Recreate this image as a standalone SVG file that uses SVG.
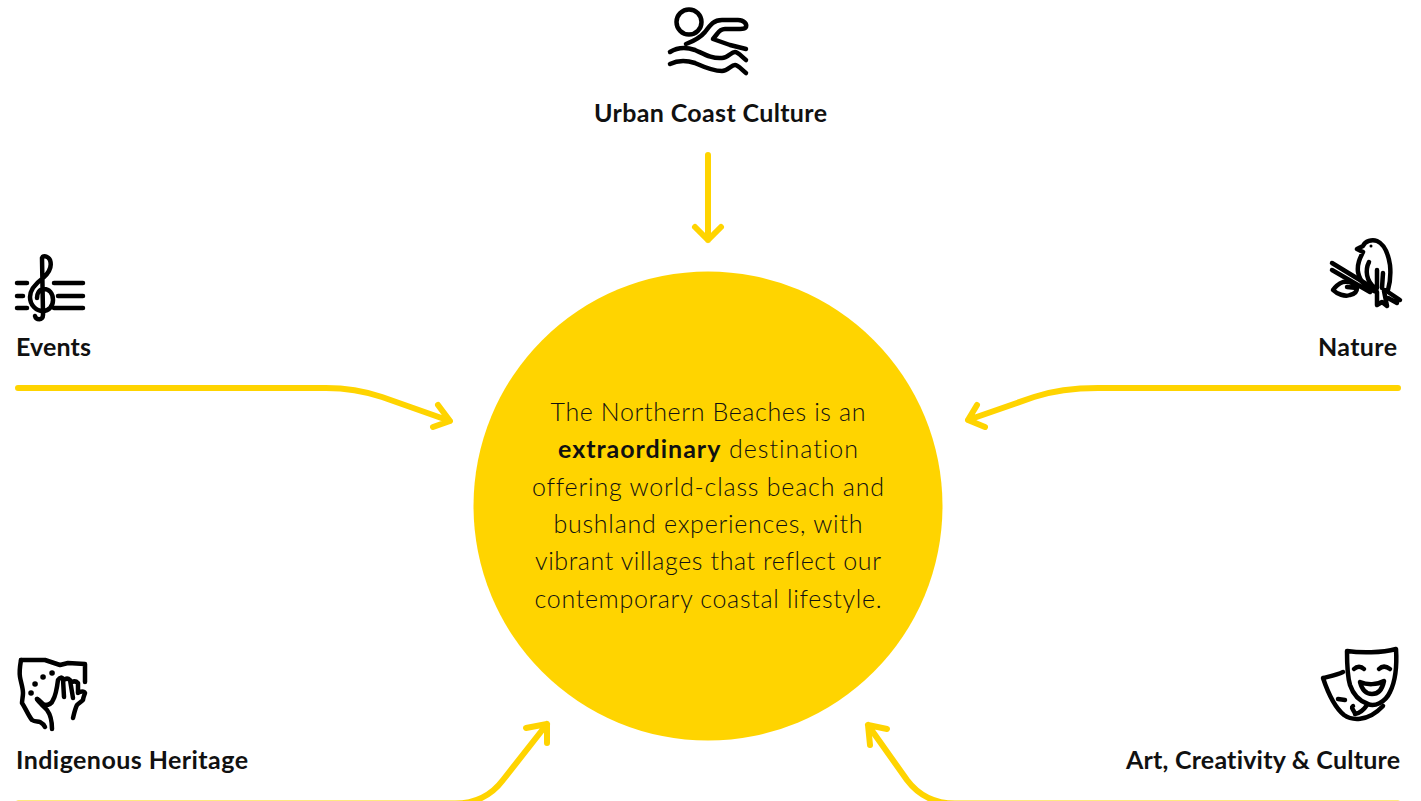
<svg xmlns="http://www.w3.org/2000/svg" width="1421" height="801" viewBox="0 0 1421 801">
<style>
.lbl{font-family:"Lato","Liberation Sans",sans-serif;font-weight:700;font-size:25px;fill:#111;font-variant-ligatures:none}
.body{font-family:"Lato","Liberation Sans",sans-serif;font-weight:300;font-size:25px;fill:#111;text-anchor:middle;font-variant-ligatures:none}
.body tspan{font-weight:700;fill:#111}
.ln{fill:none;stroke:#ffd400;stroke-width:6;stroke-linecap:round;stroke-linejoin:round}
.ic{fill:none;stroke:#000;stroke-width:4.500;stroke-linecap:round;stroke-linejoin:round}
</style>
<rect width="1421" height="801" fill="#fff"/>
<g id="connectors">
<path class="ln" d="M708 155V240M695 227L708 240L721 227"/>
<path class="ln" d="M18 388H326C348 388 364 391 382 397L450 421M433 427L450 421L438 405"/>
<path class="ln" d="M1398 388H1098C1072 388 1052 391 1034 397L968 420M985 427L968 420L977 405"/>
<path class="ln" d="M18 803.500H455C480 803.500 494 792 503 780L547 724M526 728L547 724L547 743"/>
<path class="ln" d="M1398 803.500H955C930 803.500 916 792 907 780L868 725M887 729L868 725L870 745"/>
</g>
<g id="center">
<circle cx="708" cy="506" r="234.500" fill="#ffd400"/>
<text class="body" x="708" y="421" textLength="315">The Northern Beaches is an</text>
<text class="body" x="708" y="458" textLength="300"><tspan>extraordinary</tspan> destination</text>
<text class="body" x="708" y="496" textLength="352">offering world-class beach and</text>
<text class="body" x="708" y="533" textLength="309">bushland experiences, with</text>
<text class="body" x="708" y="570" textLength="346">vibrant villages that reflect our</text>
<text class="body" x="708" y="608" textLength="347">contemporary coastal lifestyle.</text>
</g>
<g id="urban">
<g class="ic"><circle cx="689" cy="22" r="12.500"/>
<path d="M686 44C694 41 700 38 705 32C711 24 714 20 722 20H738C744 20 747 24 746 27C745 29 743 29 740 29H725C721 29 719 31 717 34L713 39L730 45L746 49"/>
<path d="M670 52C678 47 686 47 695 50C704 54 712 59 722 58C728 58 731 52 735 52C738 52 741 56 746 60"/>
<path d="M670 64C678 60 686 60 695 63C704 67 712 71 722 71C728 71 731 65 735 65C738 65 741 69 746 73"/>
</g>
<text class="lbl" x="594" y="122" textLength="233">Urban Coast Culture</text>
</g>
<g id="events">
<g class="ic"><path d="M17 283H27M17 296H23M17 308H27M54 283H83M58 296H83M54 308H83"/>
<path d="M43 313L42 258C43 255 48 256 50 260C52 266 50 272 43 278C35 284 30 290 30 297C30 305 36 311 43 311C49 311 53 306 53 300C53 293 49 289 44 289C39 289 37 294 37 298"/>
<path d="M43 311V315C43 321 36 320 35 316"/>
</g>
<text class="lbl" x="16" y="356" textLength="75">Events</text>
</g>
<g id="nature">
<g class="ic"><path d="M1332 263L1373 288M1332 270L1370 292M1385 290L1400 300M1388 298L1397 303"/>
<path d="M1357 249L1363 246C1365 241 1372 239 1377 241C1384 244 1388 252 1390 265C1391 275 1390 283 1388 290L1384 291L1387 306L1382 302L1377 305L1377 292C1367 289 1360 282 1358 272C1357 264 1360 258 1363 252Z"/>
<path d="M1369 262C1365 270 1366 281 1375 288M1377 270V288M1383 273L1382 288"/>
<path d="M1343 282C1338 284 1335 287 1333 290C1337 294 1345 297 1350 295C1355 294 1357 291 1357 288C1356 284 1350 281 1343 282ZM1347 287L1357 288"/>
</g>
<circle cx="1371" cy="246" r="1.500"/>
<text class="lbl" x="1318" y="356" textLength="79">Nature</text>
</g>
<g id="indigenous">
<g class="ic"><path d="M21 660C20 666 19 671 20 677C21 683 23 688 23 693C23 697 22 700 22 703C26 709 28 715 32 720C35 722 38 721 40 722C42 723 44 725 45 727"/>
<path d="M21 660L45 660L60 665L68 663L85 664V682"/>
<path d="M37 699C40 700 42 704 45 705C49 705 52 703 53 700C56 695 57 688 58 680C60 677 62 677 63 679L64 697M64 680C66 678 68 678 70 680L73 698M72 682C74 681 76 681 78 683L78 693C81 691 84 691 85 693C84 696 83 698 83 700C81 702 79 703 77 705C75 709 74 714 73 718"/>
<path d="M37 699C39 703 44 706 47 710C50 714 52 718 52 729"/>
<path d="M52 673H52.100M43 677H43.100M35 684H35.100M31 693H31.100" stroke-width="5.500"/>
</g>
<text class="lbl" x="16" y="769" textLength="232">Indigenous Heritage</text>
</g>
<g id="art">
<g class="ic"><path d="M1347 651C1360 653 1382 653 1396 649C1397 665 1396 680 1390 692C1385 703 1374 707 1368 704C1359 701 1353 694 1350 685C1347 675 1347 662 1347 651Z"/>
<path d="M1354 669C1357 666 1361 666 1364 669M1379 669C1382 666 1386 666 1390 669"/>
<path d="M1360 682C1367 685 1377 685 1384 681C1382 691 1377 694 1372 694C1366 694 1362 690 1360 682Z"/>
<path d="M1343 672C1337 675 1331 676 1323 678C1327 690 1333 706 1344 715C1351 720 1367 723 1383 706"/>
<path d="M1353 706C1350 708 1355 711 1355 714C1361 713 1365 708 1367 705M1338 699L1345 700"/>
</g>
<text class="lbl" x="1126" y="769" textLength="274">Art, Creativity &amp; Culture</text>
</g>
</svg>
